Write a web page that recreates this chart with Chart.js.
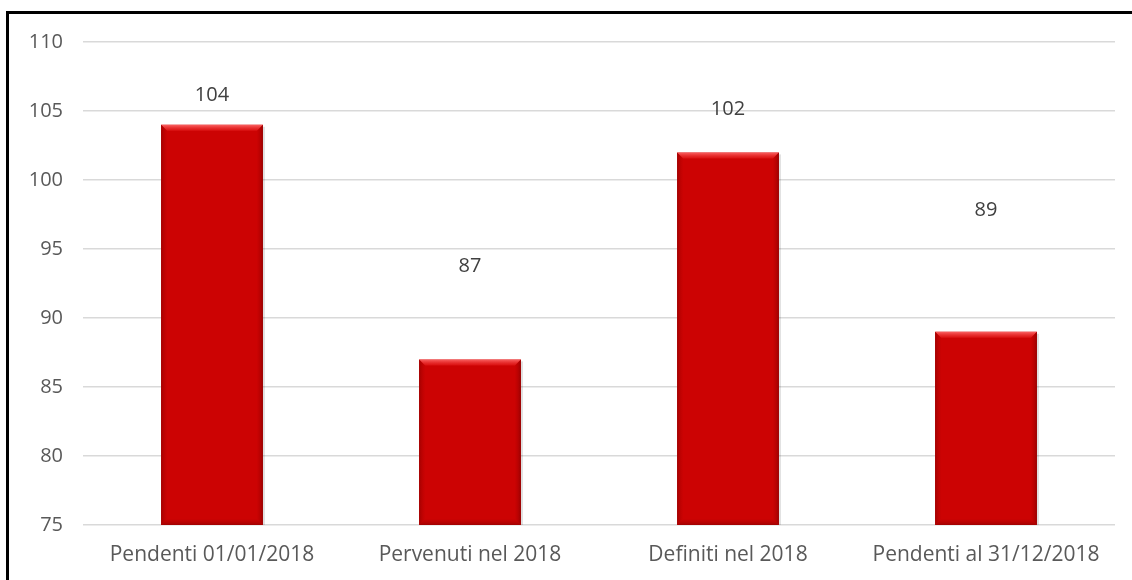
<!DOCTYPE html>
<html lang="it">
<head>
<meta charset="utf-8">
<script src="https://cdn.jsdelivr.net/npm/chart.js@4.4.1/dist/chart.umd.min.js"></script>
<style>
  html, body { margin: 0; padding: 0; background: #ffffff; }
  #wrap { position: relative; width: 1132px; height: 580px; }
  canvas { display: block; }
</style>
</head>
<body>
<div id="wrap"><canvas id="chart" width="1132" height="580"></canvas></div>
<script>
// Procedimenti: pendenti, pervenuti, definiti
const categories = ['Pendenti 01/01/2018', 'Pervenuti nel 2018', 'Definiti nel 2018', 'Pendenti al 31/12/2018'];
const values = [104, 87, 102, 89];
const yTicks = [75, 80, 85, 90, 95, 100, 105, 110];

// How far above each bar its value label sits (px)
const labelLift = [30, 93, 43, 122];

const FONT = '"Open Sans", "Liberation Sans", sans-serif';

// White page with the heavy frame on the left and top edges
const framePlugin = {
  id: 'frame',
  beforeDraw(chart) {
    const ctx = chart.ctx;
    ctx.save();
    ctx.fillStyle = '#ffffff';
    ctx.fillRect(0, 0, chart.width, chart.height);
    ctx.fillStyle = '#000000';
    ctx.fillRect(6, 11, 3, chart.height - 11);
    ctx.fillRect(6, 11, chart.width - 6, 3);
    ctx.restore();
  }
};

// Bevelled look on each bar plus the value label above it
const bevelPlugin = {
  id: 'bevel',
  afterDatasetsDraw(chart) {
    const ctx = chart.ctx;
    const meta = chart.getDatasetMeta(0);
    meta.data.forEach((bar, i) => {
      const w = bar.width;
      const l = bar.x - w / 2, r = bar.x + w / 2;
      const t = bar.y, b = Math.min(bar.base, chart.chartArea.bottom);
      const e = 6;
      ctx.save();
      // soft shadow on the right
      ctx.fillStyle = 'rgba(0,0,0,0.12)';
      ctx.fillRect(r, t + 2, 2, b - t - 2);
      // top bevel (light)
      let g = ctx.createLinearGradient(0, t, 0, t + e);
      g.addColorStop(0, 'rgba(255,110,110,0.9)');
      g.addColorStop(1, 'rgba(240,40,40,0.4)');
      ctx.fillStyle = g;
      ctx.beginPath();
      ctx.moveTo(l, t); ctx.lineTo(r, t); ctx.lineTo(r - e, t + e); ctx.lineTo(l + e, t + e); ctx.closePath();
      ctx.fill();
      // left bevel
      g = ctx.createLinearGradient(l, 0, l + e, 0);
      g.addColorStop(0, 'rgba(140,0,0,0.65)');
      g.addColorStop(1, 'rgba(180,0,0,0.1)');
      ctx.fillStyle = g;
      ctx.beginPath();
      ctx.moveTo(l, t); ctx.lineTo(l + e, t + e); ctx.lineTo(l + e, b - e); ctx.lineTo(l, b); ctx.closePath();
      ctx.fill();
      // right bevel
      g = ctx.createLinearGradient(r, 0, r - e, 0);
      g.addColorStop(0, 'rgba(130,0,0,0.7)');
      g.addColorStop(1, 'rgba(180,0,0,0.1)');
      ctx.fillStyle = g;
      ctx.beginPath();
      ctx.moveTo(r, t); ctx.lineTo(r - e, t + e); ctx.lineTo(r - e, b - e); ctx.lineTo(r, b); ctx.closePath();
      ctx.fill();
      // bottom bevel
      g = ctx.createLinearGradient(0, b, 0, b - e);
      g.addColorStop(0, 'rgba(130,0,0,0.6)');
      g.addColorStop(1, 'rgba(180,0,0,0.1)');
      ctx.fillStyle = g;
      ctx.beginPath();
      ctx.moveTo(l, b); ctx.lineTo(r, b); ctx.lineTo(r - e, b - e); ctx.lineTo(l + e, b - e); ctx.closePath();
      ctx.fill();
      // value label
      ctx.fillStyle = '#404040';
      ctx.font = '20px ' + FONT;
      ctx.textAlign = 'center';
      ctx.textBaseline = 'middle';
      ctx.fillText(String(values[i]), bar.x, t - labelLift[i]);
      ctx.restore();
    });
  }
};

new Chart(document.getElementById('chart'), {
  type: 'bar',
  data: {
    labels: categories,
    datasets: [{
      data: values,
      backgroundColor: '#cc0303',
      borderWidth: 0,
      barPercentage: 0.395,
      categoryPercentage: 1.0
    }]
  },
  options: {
    responsive: false,
    animation: false,
    devicePixelRatio: 1,
    layout: { padding: { left: 0, right: 17, top: 42, bottom: 0 } },
    plugins: {
      legend: { display: false },
      tooltip: { enabled: false }
    },
    scales: {
      x: {
        grid: { display: false, drawTicks: false },
        border: { display: false },
        ticks: {
          color: '#595959',
          font: { family: FONT, size: 21 },
          padding: 17,
          maxRotation: 0
        },
        afterFit(s) { s.height = 55; }
      },
      y: {
        min: 75,
        max: 110,
        afterBuildTicks(s) { s.ticks = yTicks.map(v => ({ value: v })); },
        grid: { color: '#d9d9d9', lineWidth: 1.5, drawTicks: false },
        border: { display: false },
        ticks: {
          color: '#595959',
          font: { family: FONT, size: 20 },
          padding: 20
        },
        afterFit(s) { s.width = 83; }
      }
    }
  },
  plugins: [framePlugin, bevelPlugin]
});
</script>
</body>
</html>
